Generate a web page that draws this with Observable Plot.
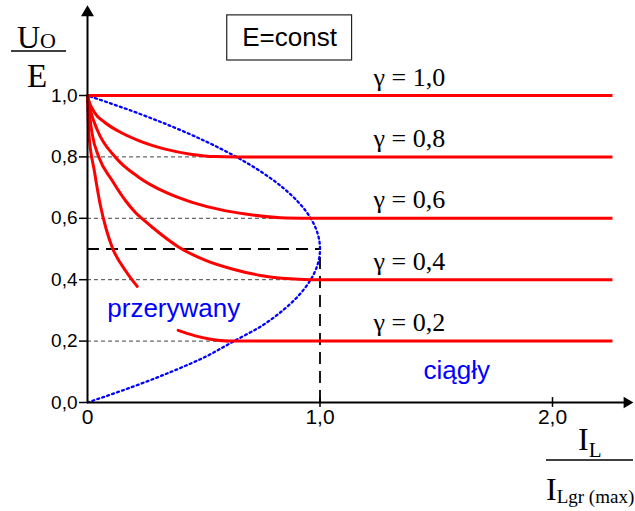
<!DOCTYPE html>
<html>
<head>
<meta charset="utf-8">
<script src="https://cdn.jsdelivr.net/npm/d3@7"></script>
<script src="https://cdn.jsdelivr.net/npm/@observablehq/plot@0.6"></script>
<style>
  body { margin: 0; background: #fff; }
  svg { display: block; }
</style>
</head>
<body>
<div id="chart"></div>
<script>
// Buck converter output characteristic, E = const:
// Uo/E versus normalised load current IL / ILgr(max) for several duty cycles γ.

const gammaValues = [1.0, 0.8, 0.6, 0.4, 0.2];
const gammaLabels = ["γ = 1,0", "γ = 0,8", "γ = 0,6", "γ = 0,4", "γ = 0,2"];
// current at which each γ characteristic enters continuous conduction
const ccmStart = [0, 0.64, 0.96, 0.96, 0.6];
const ccmEnd = 2.26;

// discontinuous-conduction branches (x = IL/ILgr(max), y = Uo/E)
const dcm08 = [[0, 1], [0.005, 0.985], [0.03, 0.945], [0.075, 0.912], [0.13, 0.885], [0.22, 0.853], [0.33, 0.826], [0.45, 0.808], [0.55, 0.801], [0.64, 0.8]];
const dcm06 = [[0, 1], [0.013, 0.951], [0.043, 0.886], [0.12, 0.799], [0.22, 0.734], [0.335, 0.685], [0.45, 0.652], [0.59, 0.625], [0.68, 0.614], [0.83, 0.602], [0.96, 0.6]];
const dcm04 = [[0, 1], [0.009, 0.935], [0.02, 0.875], [0.049, 0.799], [0.106, 0.723], [0.163, 0.658], [0.206, 0.619], [0.249, 0.59], [0.28, 0.57], [0.393, 0.506], [0.508, 0.463], [0.622, 0.435], [0.744, 0.414], [0.873, 0.403], [0.96, 0.4]];
const dcm02a = [[0, 1], [0.006, 0.876], [0.03, 0.752], [0.056, 0.64], [0.08, 0.566], [0.106, 0.506], [0.163, 0.43], [0.214, 0.378]];
const dcm02b = [[0.39, 0.235], [0.46, 0.218], [0.53, 0.206], [0.6, 0.2]];

// boundary between discontinuous and continuous conduction
const boundaryU = [0, 0.05, 0.1, 0.15, 0.2, 0.25, 0.3, 0.35, 0.4, 0.45, 0.5, 0.55, 0.6, 0.65, 0.7, 0.75, 0.8, 0.85, 0.9, 0.95, 1.0];
const boundaryI = [0, 0.19, 0.36, 0.51, 0.63, 0.75, 0.84, 0.91, 0.96, 0.99, 1.0, 0.99, 0.96, 0.91, 0.84, 0.75, 0.64, 0.51, 0.36, 0.19, 0];

// helper levels
const gridLevels = [0.8, 0.6, 0.4, 0.2];
const gridEnds = [0.62, 0.96, 0.96, 0.6];
const critU = 0.5;
const critI = 1.0;

const yTicks = [0, 0.2, 0.4, 0.6, 0.8, 1.0];
const xTicks = [0, 1, 2];
const yTop = 1.26;
const xRight = 2.32;

const SANS = "Liberation Sans, Arial, Helvetica, sans-serif";
const SERIF = "Liberation Serif, Times New Roman, serif";
const RED = "#ff0000";
const BLUE = "#0000ff";

const dcmRows = [
  ...dcm08.map(([x, y]) => ({x, y, k: "0.8"})),
  ...dcm06.map(([x, y]) => ({x, y, k: "0.6"})),
  ...dcm04.map(([x, y]) => ({x, y, k: "0.4"})),
  ...dcm02a.map(([x, y]) => ({x, y, k: "0.2a"})),
  ...dcm02b.map(([x, y]) => ({x, y, k: "0.2b"}))
];
const boundaryRows = boundaryU.map((u, i) => ({x: boundaryI[i], y: u}));
const gridRows = gridLevels.map((u, i) => ({u, end: gridEnds[i]}));
const commaY = (d) => d.toFixed(1).replace(".", ",");
const commaX = (d) => d === 0 ? "0" : d.toFixed(1).replace(".", ",");

const plot = Plot.plot({
  width: 635,
  height: 511,
  marginLeft: 87,
  marginRight: 83,
  marginTop: 95,
  marginBottom: 109,
  x: {domain: [0, 2]},
  y: {domain: [0, 1]},
  style: {fontFamily: SANS, fontSize: "18px", color: "#000", background: "#fff", overflow: "visible"},
  marks: [
    // thin dashed guides
    Plot.ruleY(gridRows, {y: "u", x1: 0, x2: "end", stroke: "#444", strokeWidth: 1, strokeDasharray: "4,3"}),
    // critical point guide
    Plot.ruleY([critU], {x1: 0, x2: critI, stroke: "#000", strokeWidth: 1.8, strokeDasharray: "12,7"}),
    Plot.ruleX([critI], {y1: 0, y2: critU, stroke: "#000", strokeWidth: 1.8, strokeDasharray: "12,7"}),
    // boundary curve
    Plot.line(boundaryRows, {x: "x", y: "y", curve: "catmull-rom", stroke: BLUE, strokeWidth: 2.3, strokeDasharray: "2,3.2"}),
    // discontinuous-conduction characteristics
    Plot.line(dcmRows, {x: "x", y: "y", z: "k", curve: "monotone-x", stroke: RED, strokeWidth: 3}),
    // continuous-conduction characteristics
    Plot.ruleY(gammaValues, {y: (d) => d, x1: (d, i) => ccmStart[i], x2: ccmEnd, stroke: RED, strokeWidth: 3}),
    // axis lines with arrowheads
    Plot.ruleX([0], {y1: 0, y2: yTop, stroke: "#000", strokeWidth: 2}),
    Plot.ruleY([0], {x1: 0, x2: xRight, stroke: "#000", strokeWidth: 2}),
    Plot.dot([0], {x: 0, y: yTop + 0.01, symbol: "triangle", r: 4.8, fill: "#000", stroke: "none"}),
    Plot.dot([0], {x: xRight, y: 0, symbol: "triangle", r: 4.2, rotate: 90, fill: "#000", stroke: "none"}),
    Plot.ruleX([1, 2], {y1: -0.016, y2: 0.016, stroke: "#000", strokeWidth: 1.5}),
    Plot.axisY({ticks: yTicks, tickFormat: commaY, tickSize: 8, tickPadding: 2, fontSize: 19, strokeWidth: 1.5, label: null}),
    Plot.axisX({ticks: xTicks, tickFormat: commaX, tickSize: 0, tickPadding: 7, fontSize: 21, label: null}),
    // annotations
    Plot.text(gammaValues, {x: 1.23, y: (d) => d, text: (d, i) => gammaLabels[i], textAnchor: "start", lineAnchor: "bottom", dy: -10, fontFamily: SERIF, fontSize: 26, fill: "#000"}),
    Plot.text(["przerywany"], {x: 0.085, y: 0.277, text: (d) => d, textAnchor: "start", lineAnchor: "bottom", fontSize: 26, fill: BLUE}),
    Plot.text(["ciągły"], {x: 1.445, y: 0.078, text: (d) => d, textAnchor: "start", lineAnchor: "bottom", fontSize: 26, fill: BLUE}),
    Plot.rect([0], {x1: 0.601, x2: 1.138, y1: 1.114, y2: 1.261, fill: "none", stroke: "#222", strokeWidth: 1.2}),
    Plot.text(["E=const"], {x: 0.869, y: 1.187, text: (d) => d, textAnchor: "middle", lineAnchor: "middle", fontSize: 26, fill: "#000"})
  ]
});

document.getElementById("chart").appendChild(plot);

// fraction-style axis titles
const svg = d3.select(plot);
const title = svg.append("g")
  .attr("fill", "#000")
  .attr("font-family", SERIF)
  .attr("text-anchor", "start");

const yt = title.append("text").attr("x", 17).attr("y", 48);
yt.append("tspan").attr("font-size", 32).text("U");
yt.append("tspan").attr("font-size", 22).text("O");
title.append("line").attr("x1", 11).attr("x2", 66).attr("y1", 51).attr("y2", 51)
  .attr("stroke", "#000").attr("stroke-width", 1.5);
title.append("text").attr("x", 27).attr("y", 87).attr("font-size", 33).text("E");

const xt = title.append("text").attr("x", 578).attr("y", 450);
xt.append("tspan").attr("font-size", 32).text("I");
xt.append("tspan").attr("font-size", 21).attr("dy", 7).text("L");
title.append("line").attr("x1", 546).attr("x2", 633).attr("y1", 460).attr("y2", 460)
  .attr("stroke", "#000").attr("stroke-width", 1.5);
const xb = title.append("text").attr("x", 546).attr("y", 500);
xb.append("tspan").attr("font-size", 32).text("I");
xb.append("tspan").attr("font-size", 19).attr("dy", 3).text("Lgr (max)");
</script>
</body>
</html>
